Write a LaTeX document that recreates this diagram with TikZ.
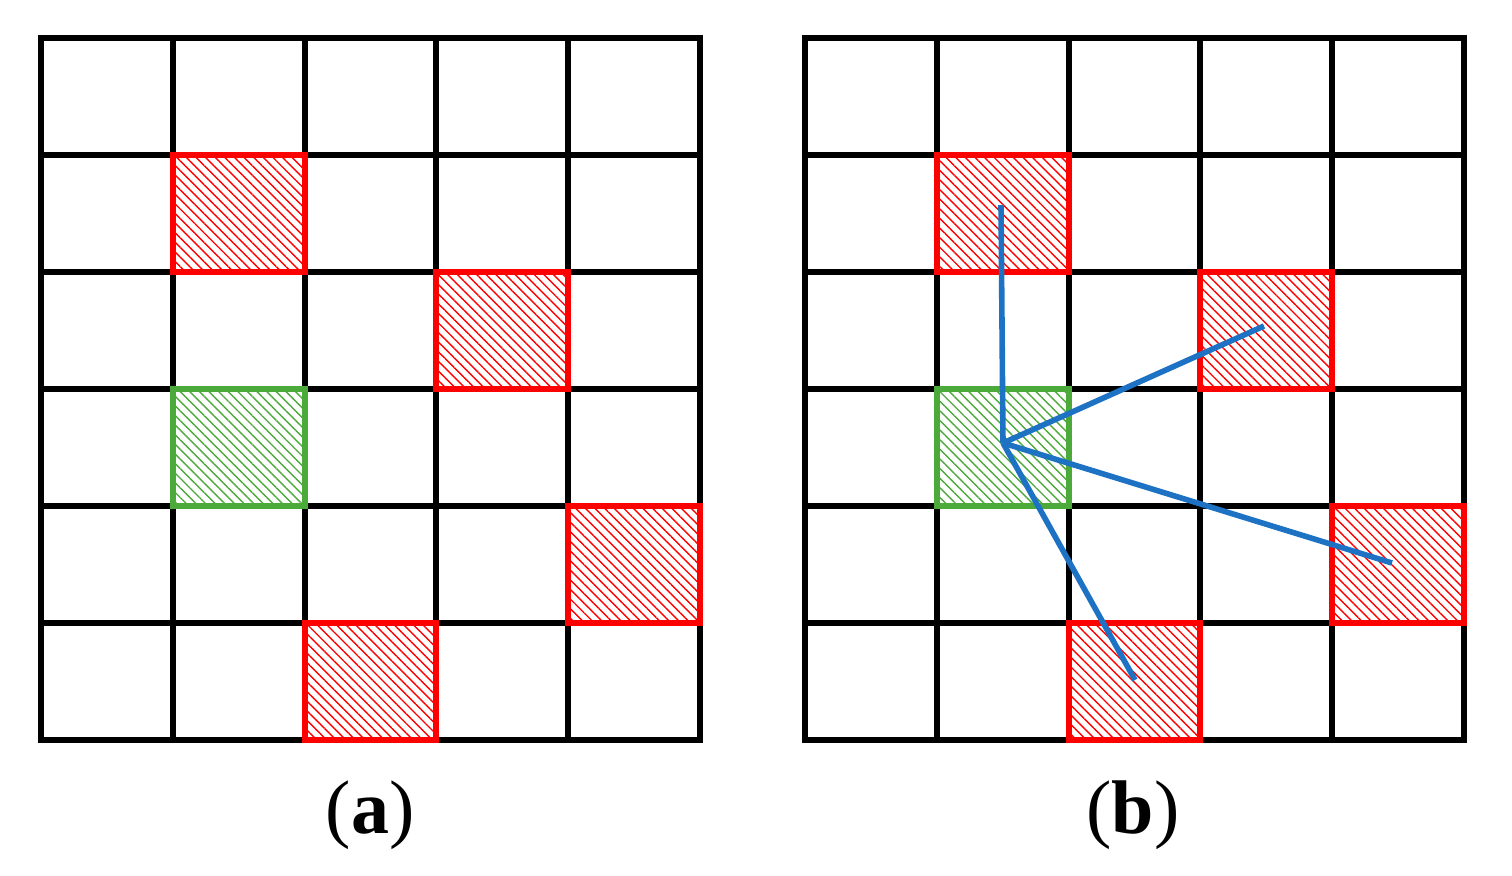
\documentclass[tikz,border=0pt]{standalone}
\usepackage{fontspec}
\setmainfont{Liberation Serif}
\usetikzlibrary{patterns.meta}
\definecolor{gr}{RGB}{76,170,58}
\definecolor{bl}{RGB}{30,114,196}
\begin{document}
\begin{tikzpicture}[x=0.5pt,y=-0.5pt,
  grid/.style={line width=3pt,black},
  redc/.style={draw=red,line width=3pt,pattern={Lines[angle=-45,distance=3.4pt,line width=0.7pt]},pattern color=red},
  greenc/.style={draw=gr,line width=3pt,pattern={Lines[angle=-45,distance=3.4pt,line width=0.7pt]},pattern color=gr},
  conn/.style={line width=2.8pt,color=bl},
  lab/.style={font=\fontsize{38}{42}\selectfont}]
\useasboundingbox (0,0) rectangle (1512,875);
\foreach \ox/\name in {41/a,805/b}{
  \foreach \c in {0,...,4}{\foreach \r in {0,...,5}{
    \draw[grid] ({\ox+\c*131.8},{38+\r*117}) rectangle ({\ox+(\c+1)*131.8},{38+(\r+1)*117});}}
  \foreach \c/\r in {1/1,3/2,4/4,2/5}{
    \draw[redc] ({\ox+\c*131.8},{38+\r*117}) rectangle ({\ox+(\c+1)*131.8},{38+(\r+1)*117});}
  \draw[greenc] ({\ox+131.8},{38+3*117}) rectangle ({\ox+2*131.8},{38+4*117});
}
\coordinate (o) at (1003,443);
\coordinate (e1) at (1001,205);
\coordinate (e2) at (1264,326);
\coordinate (e3) at (1392,563);
\coordinate (e4) at (1135,680);
\foreach \e in {e1,e2,e3,e4}{\draw[conn] (o) -- (\e);}
\node[lab] (la) at (370,815) {(\textbf{a})};
\node[lab] (lb) at (1133,815) {(\textbf{b})};
\end{tikzpicture}
\end{document}
